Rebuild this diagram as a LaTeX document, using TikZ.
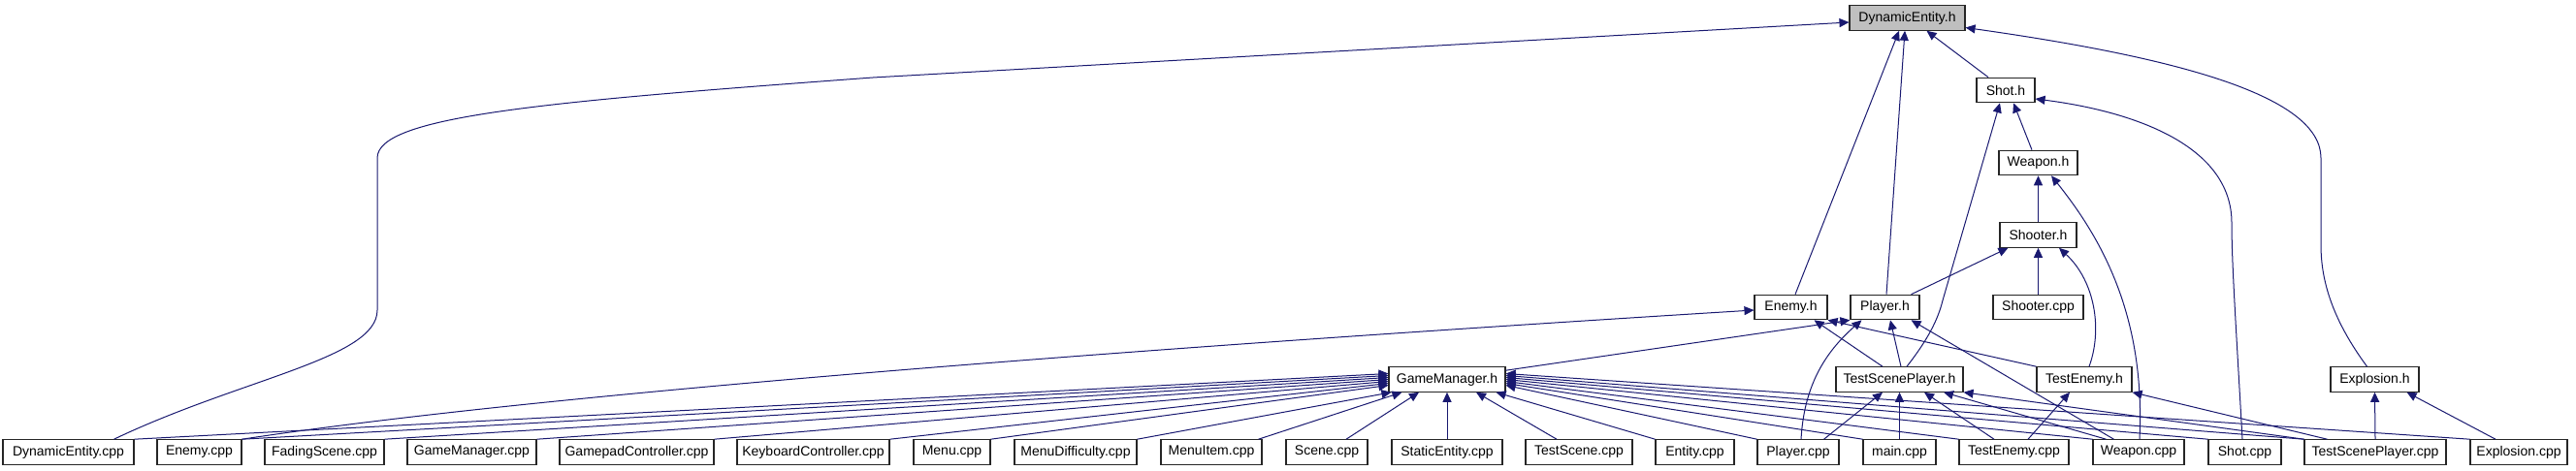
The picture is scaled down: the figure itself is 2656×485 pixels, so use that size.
\documentclass[tikz,border=0pt]{standalone}
\usepackage{fontspec}
\setmainfont{Liberation Sans}
\usetikzlibrary{arrows.meta,calc}
\definecolor{edgecol}{HTML}{191970}
\definecolor{headfill}{HTML}{BFBFBF}
\begin{document}
\begin{tikzpicture}[x=1pt,y=-1pt,
  box/.style={draw=black!85, line width=1.1pt, fill=white, minimum height=25.5pt, inner sep=0pt, font=\fontsize{14}{16}\selectfont},
  e/.style={draw=edgecol, line width=1pt, -{Triangle[length=10pt,width=9pt]}, fill=none}]
\useasboundingbox (0,0) rectangle (2656,485);
% upper rows
\node[box, fill=headfill, minimum width=119] (DEh) at (1966.5,18.5) {DynamicEntity.h};
\node[box, minimum width=60] (Shoth) at (2068,93) {Shot.h};
\node[box, minimum width=81] (Weaponh) at (2101.5,168) {Weapon.h};
\node[box, minimum width=79] (Shooterh) at (2101.5,242.5) {Shooter.h};
\node[box, minimum width=75] (Enemyh) at (1846.5,317) {Enemy.h};
\node[box, minimum width=71] (Playerh) at (1943.5,317) {Player.h};
\node[box, minimum width=93] (Shootercpp) at (2101.5,317) {Shooter.cpp};
\node[box, minimum width=120] (GMh) at (1492,391.5) {GameManager.h};
\node[box, minimum width=131] (TSPh) at (1958.5,391.5) {TestScenePlayer.h};
\node[box, minimum width=98] (TEh) at (2149,391.5) {TestEnemy.h};
\node[box, minimum width=91] (Explh) at (2448.5,391.5) {Explosion.h};
% bottom row
\node[box, minimum width=135] (DEcpp) at (70.5,466.5) {DynamicEntity.cpp};
\node[box, minimum width=87] (Enemycpp) at (205.5,466.5) {Enemy.cpp};
\node[box, minimum width=123] (Fading) at (334.5,466.5) {FadingScene.cpp};
\node[box, minimum width=133] (GMcpp) at (486.5,466.5) {GameManager.cpp};
\node[box, minimum width=159] (Gamepad) at (656.5,466.5) {GamepadController.cpp};
\node[box, minimum width=157] (Keyboard) at (838.5,466.5) {KeyboardController.cpp};
\node[box, minimum width=79] (Menu) at (981.5,466.5) {Menu.cpp};
\node[box, minimum width=126] (MenuDiff) at (1109,466.5) {MenuDifficulty.cpp};
\node[box, minimum width=104] (MenuItem) at (1249,466.5) {MenuItem.cpp};
\node[box, minimum width=84] (Scene) at (1368,466.5) {Scene.cpp};
\node[box, minimum width=114] (Static) at (1492,466.5) {StaticEntity.cpp};
\node[box, minimum width=110] (TestScene) at (1628,466.5) {TestScene.cpp};
\node[box, minimum width=81] (Entity) at (1747.5,466.5) {Entity.cpp};
\node[box, minimum width=84] (Playercpp) at (1854,466.5) {Player.cpp};
\node[box, minimum width=75] (main) at (1958.5,466.5) {main.cpp};
\node[box, minimum width=113] (TEcpp) at (2076.5,466.5) {TestEnemy.cpp};
\node[box, minimum width=94] (Weaponcpp) at (2205,466.5) {Weapon.cpp};
\node[box, minimum width=75] (Shotcpp) at (2314.5,466.5) {Shot.cpp};
\node[box, minimum width=146] (TSPcpp) at (2449,466.5) {TestScenePlayer.cpp};
\node[box, minimum width=100] (Explcpp) at (2597,466.5) {Explosion.cpp};

% edges into DynamicEntity.h
\draw[e] ($(DEcpp.north)+(47,0)$) .. controls (250,390) and (389,370) .. (389,320) -- (389,163) .. controls (389,120) and (560,105) .. (900,80) -- ($(DEh.west)+(0,4.5)$);
\draw[e] ($(Enemyh.north)+(4.5,0)$) -- ($(DEh.south)+(-8.5,0)$);
\draw[e] ($(Playerh.north)+(1.5,0)$) -- ($(DEh.south)+(-2.5,0)$);
\draw[e] ($(Shoth.north)+(-18,0)$) -- ($(DEh.south)+(20,0)$);
\draw[e] ($(Explh.north)+(-8,0)$) .. controls (2405,330) and (2393,290) .. (2393,253) -- (2393,163) .. controls (2393,100) and (2250,60) .. ($(DEh.east)+(0,10)$);
% Shot.h
\draw[e] ($(Weaponh.north)+(-6.5,0)$) -- ($(Shoth.south)+(8,0)$);
\draw[e] ($(TSPh.north)+(7.5,0)$) .. controls (1988,350) and (1998,330) .. (2003,310) -- ($(Shoth.south)+(-6,0)$);
\draw[e] ($(Shotcpp.north)+(-2.5,0)$) .. controls (2305,330) and (2301,270) .. (2301,230) .. controls (2301,150) and (2200,115) .. ($(Shoth.east)+(0,9)$);
% Weapon.h
\draw[e] (Shooterh.north) -- (Weaponh.south);
\draw[e] ($(Weaponcpp.north)+(1,0)$) .. controls (2212,330) and (2170,250) .. ($(Weaponh.south)+(13.5,0)$);
% Shooter.h
\draw[e] ($(Playerh.north east)+(-9,0)$) -- ($(Shooterh.south west)+(9,0)$);
\draw[e] (Shootercpp.north) -- (Shooterh.south);
\draw[e] ($(TEh.north)+(5,0)$) .. controls (2168,340) and (2160,290) .. ($(Shooterh.south)+(21.5,0)$);
% Enemy.h
\draw[e] (Enemycpp.north east) .. controls (500,415) and (1000,370) .. ($(Enemyh.west)+(0,3)$);
\draw[e] ($(TSPh.north)+(-17.5,0)$) -- ($(Enemyh.south)+(24,0)$);
\draw[e] (TEh.north west) -- (Enemyh.south east);
% Player.h
\draw[e] ($(GMh.north east)+(0,4)$) -- (Playerh.south west);
\draw[e] ($(TSPh.north)+(1.5,0)$) -- ($(Playerh.south)+(5.5,0)$);
\draw[e] ($(Playercpp.north)+(3,0)$) .. controls (1860,400) and (1880,365) .. ($(Playerh.south)+(-24,0)$);
\draw[e] ($(Weaponcpp.north west)+(22,0)$) -- ($(Playerh.south east)+(-9,0)$);
% TestScenePlayer.h
\draw[e] ($(Playercpp.north east)+(-16,0)$) -- ($(TSPh.south)+(-17.5,0)$);
\draw[e] (main.north) -- (TSPh.south);
\draw[e] ($(TEcpp.north)+(-20.5,0)$) -- ($(TSPh.south)+(25.5,0)$);
\draw[e] ($(Weaponcpp.north west)+(14,0)$) -- ($(TSPh.south)+(45.5,0)$);
\draw[e] (TSPcpp.north west) -- (TSPh.south east);
% TestEnemy.h
\draw[e] ($(TEcpp.north)+(14.5,0)$) -- ($(TEh.south)+(-15,0)$);
\draw[e] ($(TSPcpp.north west)+(24,0)$) -- (TEh.south east);
% Explosion.h
\draw[e] (TSPcpp.north) -- (Explh.south);
\draw[e] ($(Explcpp.north)+(-24,0)$) -- ($(Explh.south east)+(-13,0)$);
% GameManager.h
\draw[e] (DEcpp.north east) -- ($(GMh.west)+(0,-6)$);
\draw[e] (Enemycpp.north east) -- ($(GMh.west)+(0,-4)$);
\draw[e] (Fading.north east) -- ($(GMh.west)+(0,-2)$);
\draw[e] (GMcpp.north east) -- (GMh.west);
\draw[e] (Gamepad.north east) -- ($(GMh.west)+(0,2)$);
\draw[e] (Keyboard.north east) -- ($(GMh.west)+(0,4)$);
\draw[e] (Menu.north east) -- ($(GMh.west)+(0,6)$);
\draw[e] (MenuDiff.north east) -- ($(GMh.south west)+(3,0)$);
\draw[e] ($(MenuItem.north east)+(-4,0)$) -- ($(GMh.south west)+(14,0)$);
\draw[e] ($(Scene.north)+(20,0)$) -- ($(GMh.south)+(-29,0)$);
\draw[e] (Static.north) -- (GMh.south);
\draw[e] ($(TestScene.north)+(-23,0)$) -- ($(GMh.south)+(30,0)$);
\draw[e] (Entity.north west) -- ($(GMh.south east)+(-10,0)$);
\draw[e] (Playercpp.north west) -- ($(GMh.east)+(0,6)$);
\draw[e] (main.north west) -- ($(GMh.east)+(0,4)$);
\draw[e] (TEcpp.north west) -- ($(GMh.east)+(0,2)$);
\draw[e] (Weaponcpp.north west) -- (GMh.east);
\draw[e] (Shotcpp.north west) -- ($(GMh.east)+(0,-2)$);
\draw[e] (TSPcpp.north west) -- ($(GMh.east)+(0,-4)$);
\draw[e] (Explcpp.north west) -- ($(GMh.east)+(0,-6)$);
\end{tikzpicture}
\end{document}
